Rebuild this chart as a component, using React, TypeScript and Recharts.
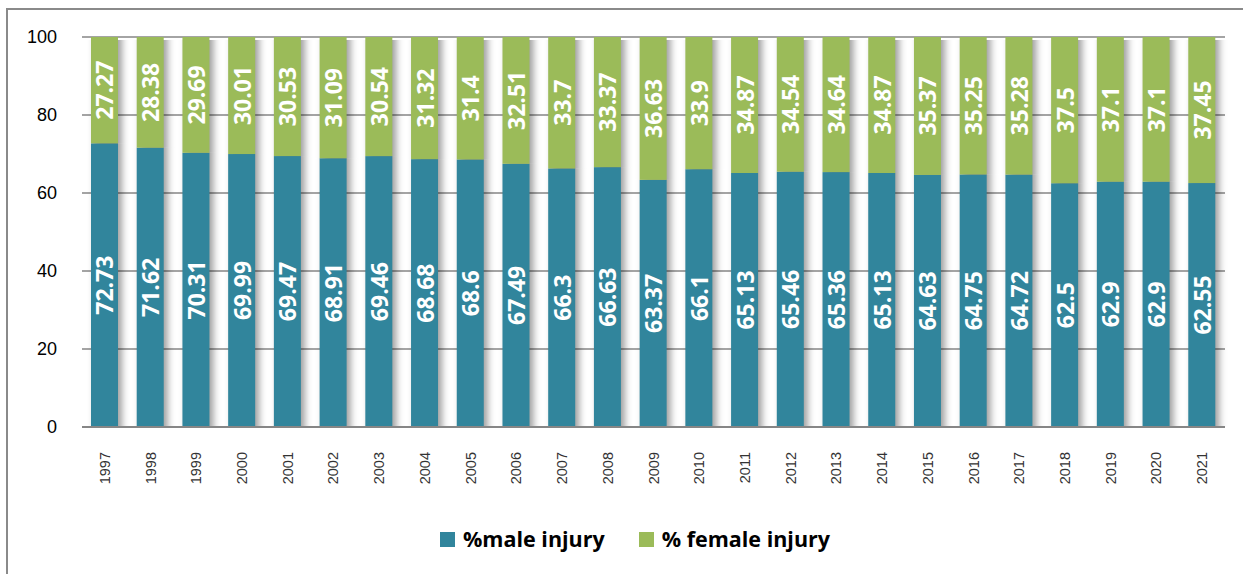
import React from 'react';
import { BarChart, Bar, XAxis, YAxis, CartesianGrid, Legend, LabelList } from 'recharts';

const YEARS = ['1997', '1998', '1999', '2000', '2001', '2002', '2003', '2004', '2005', '2006', '2007', '2008', '2009', '2010', '2011', '2012', '2013', '2014', '2015', '2016', '2017', '2018', '2019', '2020', '2021'];
const MALE = [72.73, 71.62, 70.31, 69.99, 69.47, 68.91, 69.46, 68.68, 68.6, 67.49, 66.3, 66.63, 63.37, 66.1, 65.13, 65.46, 65.36, 65.13, 64.63, 64.75, 64.72, 62.5, 62.9, 62.9, 62.55];
const FEMALE = [27.27, 28.38, 29.69, 30.01, 30.53, 31.09, 30.54, 31.32, 31.4, 32.51, 33.7, 33.37, 36.63, 33.9, 34.87, 34.54, 34.64, 34.87, 35.37, 35.25, 35.28, 37.5, 37.1, 37.1, 37.45];
const Y_TICKS = [0, 20, 40, 60, 80, 100];
const MALE_NAME = '%male injury';
const FEMALE_NAME = '% female injury';
const LEGEND_ORDER = [MALE_NAME, FEMALE_NAME];

const data = YEARS.map((year, i) => ({ year, male: MALE[i], female: FEMALE[i] }));

const LABEL_FONT = '"Open Sans", "Noto Sans", sans-serif';
const AXIS_FONT = '"Liberation Sans", Arial, sans-serif';

// soft shadow to the right of each bar, blurred only sideways so it stays above the axis
const ShadowBar = (props: any) => {
  const { x, y, width, height, fill, isTop } = props;
  if (!height) return null;
  const off = isTop ? 3 : 0;
  return (
    <g>
      <rect
        x={x + 4}
        y={y + off}
        width={width}
        height={Math.max(0, height - off)}
        fill="#000"
        fillOpacity={0.38}
        filter="url(#barBlur)"
      />
      <rect x={x} y={y} width={width} height={height} fill={fill} />
    </g>
  );
};

const barLabel = (props: any) => {
  const { x, y, width, height, value } = props;
  const cx = x + width / 2;
  const cy = y + height / 2;
  return (
    <text
      x={cx}
      y={cy}
      transform={`rotate(-90 ${cx} ${cy})`}
      textAnchor="middle"
      dominantBaseline="central"
      fill="#fff"
      fontSize={23}
      fontWeight={700}
      fontFamily={LABEL_FONT}
    >
      {value}
    </text>
  );
};

const YearTick = (props: any) => {
  const { x, payload } = props;
  const tx = x + 5;
  const ty = 452;
  return (
    <text
      x={tx}
      y={ty}
      transform={`rotate(-90 ${tx} ${ty})`}
      textAnchor="end"
      fontSize={14.5}
      fill="#333"
      fontFamily={AXIS_FONT}
    >
      {payload.value}
    </text>
  );
};

const renderLegend = (props: any) => {
  const items = [...(props.payload || [])].sort(
    (a: any, b: any) => LEGEND_ORDER.indexOf(a.value) - LEGEND_ORDER.indexOf(b.value)
  );
  return (
    <div style={{ display: 'flex', alignItems: 'center', gap: 34 }}>
      {items.map((it: any) => (
        <div key={it.value} style={{ display: 'flex', alignItems: 'center' }}>
          <span style={{ display: 'inline-block', width: 15, height: 15, background: it.color, marginRight: 8 }} />
          <span style={{ fontFamily: LABEL_FONT, fontWeight: 700, fontSize: 21.5, color: '#000', lineHeight: '26px' }}>{it.value}</span>
        </div>
      ))}
    </div>
  );
};

export default function App() {
  return (
    <div style={{ position: 'absolute', left: 0, top: 0, width: 1243, height: 574, overflow: 'hidden', background: '#fff' }}>
      <div style={{ position: 'absolute', left: 6, top: 8, width: 1300, height: 620, border: '2px solid #8a8a8a' }} />
      <div style={{ position: 'absolute', left: 0, top: 0 }}>
        <BarChart width={1243} height={574} data={data} margin={{ top: 37, right: 18, left: 0, bottom: 0 }} barSize={27}>
          <defs>
            <filter id="barBlur" x="-60%" y="0%" width="220%" height="100%">
              <feGaussianBlur stdDeviation="3.5 0" />
            </filter>
          </defs>
          <CartesianGrid vertical={false} stroke="#868686" strokeWidth={1.5} />
          <XAxis
            dataKey="year"
            height={147}
            interval={0}
            tick={<YearTick />}
            tickLine={false}
            axisLine={{ stroke: '#868686', strokeWidth: 2 }}
          />
          <YAxis
            width={82}
            domain={[0, 100]}
            ticks={Y_TICKS}
            axisLine={false}
            tickLine={false}
            tickSize={0}
            tickMargin={25}
            tick={{ fill: '#000', fontSize: 18, fontFamily: AXIS_FONT }}
          />
          <Legend
            layout="horizontal"
            verticalAlign="middle"
            align="center"
            content={renderLegend}
            wrapperStyle={{ top: 526, left: 440, width: 'auto' }}
          />
          <Bar dataKey="male" name={MALE_NAME} stackId="a" fill="#31859c" shape={<ShadowBar />} isAnimationActive={false}>
            <LabelList dataKey="male" content={barLabel} />
          </Bar>
          <Bar dataKey="female" name={FEMALE_NAME} stackId="a" fill="#9bbb59" shape={<ShadowBar isTop />} isAnimationActive={false}>
            <LabelList dataKey="female" content={barLabel} />
          </Bar>
        </BarChart>
      </div>
    </div>
  );
}
